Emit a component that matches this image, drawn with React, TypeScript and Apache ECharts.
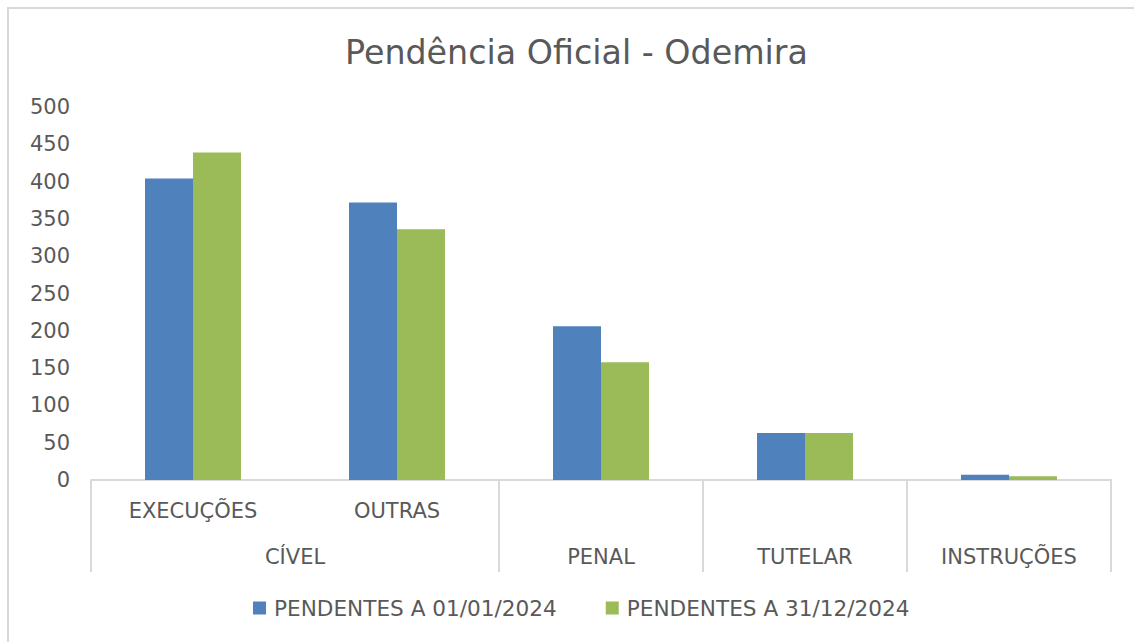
import React, { useEffect, useRef } from "react";
import * as echarts from "echarts";

const subCategories = ["EXECUÇÕES", "OUTRAS", "PENAL", "TUTELAR", "INSTRUÇÕES"];
const subLabels = ["EXECUÇÕES", "OUTRAS", "", "", ""];
const groupLabels = ["CÍVEL", "PENAL", "TUTELAR", "INSTRUÇÕES"];
const groupCenters = [1, 2.5, 3.5, 4.5];
const groupBounds = [0, 2, 3, 4, 5];
const seriesNames = ["PENDENTES A 01/01/2024", "PENDENTES A 31/12/2024"];
const pendentesInicio = [404, 372, 206, 63, 7];
const pendentesFim = [439, 336, 158, 63, 5];
const yTicks = { min: 0, max: 500, interval: 50 };

const FONT = "'DejaVu Sans', sans-serif";
const TXT = "#595959";
const LINE = "#d9d9d9";

export default function App() {
  const ref = useRef<HTMLDivElement>(null);
  useEffect(() => {
    document.body.style.margin = "0";
    if (!ref.current) return;
    const chart = echarts.init(ref.current, null, { renderer: "svg" });
    chart.setOption({
      animation: false,
      backgroundColor: "#ffffff",
      textStyle: { fontFamily: FONT },
      title: {
        text: "Pendência Oficial - Odemira",
        left: 340,
        top: 31,
        textStyle: { fontFamily: FONT, fontSize: 33.3, fontWeight: "normal", color: TXT },
      },
      graphic: [
        {
          type: "rect",
          shape: { x: 8, y: 8, width: 1300, height: 800 },
          style: { fill: "none", stroke: LINE, lineWidth: 2 },
          silent: true,
          z: -1,
        },
      ],
      legend: {
        bottom: 18,
        left: 248,
        itemWidth: 13,
        itemHeight: 13,
        itemGap: 49,
        icon: "rect",
        textStyle: { fontFamily: FONT, fontSize: 21.6, color: TXT, padding: [0, 0, 0, 3] },
        data: seriesNames,
      },
      grid: { left: 91, right: 23, top: 107, bottom: 162, containLabel: false },
      xAxis: [
        {
          type: "category",
          data: subCategories,
          position: "bottom",
          axisLine: { show: true, lineStyle: { color: LINE, width: 2 } },
          axisTick: { show: false },
          axisLabel: {
            color: TXT,
            fontFamily: FONT,
            fontSize: 21,
            margin: 20,
            interval: 0,
            formatter: (_v: string, i: number) => subLabels[i],
          },
        },
        {
          type: "value",
          min: 0,
          max: 5,
          position: "bottom",
          axisLine: { show: false },
          splitLine: { show: false },
          axisTick: {
            show: true,
            inside: false,
            length: 92,
            customValues: groupBounds,
            lineStyle: { color: LINE, width: 2 },
          },
          axisLabel: {
            show: true,
            color: TXT,
            fontFamily: FONT,
            fontSize: 21,
            margin: 66,
            customValues: groupCenters,
            formatter: (v: number) => {
              const idx = groupCenters.indexOf(v);
              return idx >= 0 ? groupLabels[idx] : "";
            },
          },
        },
      ],
      yAxis: {
        type: "value",
        min: yTicks.min,
        max: yTicks.max,
        interval: yTicks.interval,
        axisLine: { show: false },
        axisTick: { show: false },
        splitLine: { show: false },
        axisLabel: { color: TXT, fontFamily: FONT, fontSize: 21, margin: 21 },
      },
      series: [
        {
          name: seriesNames[0],
          type: "bar",
          xAxisIndex: 0,
          data: pendentesInicio,
          barWidth: 48,
          barGap: "0%",
          itemStyle: { color: "#4F81BD" },
        },
        {
          name: seriesNames[1],
          type: "bar",
          xAxisIndex: 0,
          data: pendentesFim,
          barWidth: 48,
          barGap: "0%",
          itemStyle: { color: "#9BBB59" },
        },
      ],
    });
    return () => chart.dispose();
  }, []);
  return <div ref={ref} style={{ width: 1134, height: 642 }} />;
}
